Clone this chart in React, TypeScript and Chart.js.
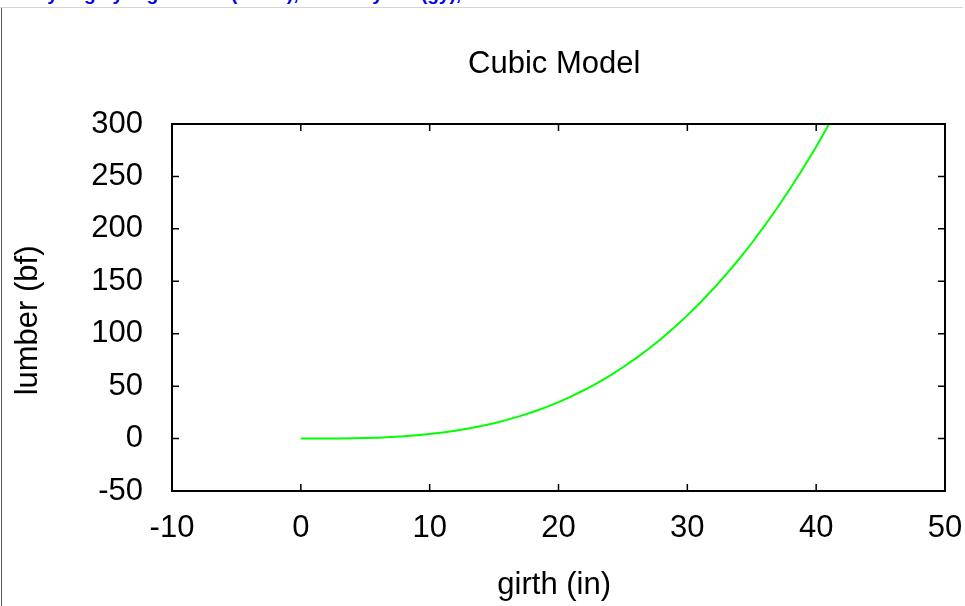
import React, { useEffect, useRef } from "react";
import { Chart, registerables } from "chart.js";

Chart.register(...registerables);

const chartTitle = "Cubic Model ";
const xAxisLabel = "girth (in) ";
const yAxisLabel = "lumber (bf)   ";

const girth = [
  0, 1, 2, 3, 4, 5, 6, 7, 8, 9, 10, 11, 12, 13, 14, 15, 16, 17, 18, 19, 20,
  21, 22, 23, 24, 25, 26, 27, 28, 29, 30, 31, 32, 33, 34, 35, 36, 37, 38, 39,
  40, 41,
];
const lumber = [
  0, 0, 0, 0.1, 0.3, 0.5, 0.9, 1.5, 2.2, 3.2, 4.4, 5.8, 7.5, 9.6, 11.9, 14.7,
  17.8, 21.4, 25.4, 29.8, 34.8, 40.3, 46.3, 52.9, 60.1, 68, 76.5, 85.6, 95.5,
  106.1, 117.5, 129.6, 142.6, 156.3, 171, 186.5, 203, 220.4, 238.7, 258,
  278.4, 300,
];

const xTickValues = [-10, 0, 10, 20, 30, 40, 50];
const yTickValues = [-50, 0, 50, 100, 150, 200, 250, 300];

const FONT = "'Liberation Sans', Arial, Helvetica, sans-serif";

const framePlugin = {
  id: "gnuFrame",
  afterDraw(chart: any) {
    const { ctx, chartArea } = chart;
    const { left, right, top, bottom } = chartArea;
    const xs = chart.scales.x;
    const ys = chart.scales.y;
    const tl = 7;
    ctx.save();
    ctx.strokeStyle = "#000";
    ctx.lineWidth = 1.5;
    xs.ticks.forEach((t: any) => {
      const px = xs.getPixelForValue(t.value);
      ctx.beginPath();
      ctx.moveTo(px, bottom);
      ctx.lineTo(px, bottom - tl);
      ctx.moveTo(px, top);
      ctx.lineTo(px, top + tl);
      ctx.stroke();
    });
    ys.ticks.forEach((t: any) => {
      const py = ys.getPixelForValue(t.value);
      ctx.beginPath();
      ctx.moveTo(left, py);
      ctx.lineTo(left + tl, py);
      ctx.moveTo(right, py);
      ctx.lineTo(right - tl, py);
      ctx.stroke();
    });
    ctx.lineWidth = 2;
    ctx.strokeRect(left, top, right - left, bottom - top);
    ctx.restore();
  },
};

export default function App() {
  const canvasRef = useRef<HTMLCanvasElement | null>(null);

  useEffect(() => {
    const canvas = canvasRef.current;
    if (!canvas) return;
    const points = girth.map((g, i) => ({ x: g, y: lumber[i] }));
    const chart = new Chart(canvas, {
      type: "scatter",
      data: {
        datasets: [
          {
            label: "cubic",
            data: points,
            showLine: true,
            borderColor: "#00ff00",
            backgroundColor: "#00ff00",
            borderWidth: 2,
            pointRadius: 0,
            tension: 0,
          },
        ],
      },
      options: {
        responsive: false,
        animation: false,
        events: [],
        layout: { padding: { left: 0, right: 20, top: 0, bottom: 0 } },
        plugins: {
          legend: { display: false },
          tooltip: { enabled: false },
          title: {
            display: true,
            text: chartTitle,
            fullSize: false,
            color: "#000",
            font: { family: FONT, size: 31, weight: "normal", lineHeight: 1.2 },
            padding: { top: 46, bottom: 40.8 },
          },
        },
        scales: {
          x: {
            type: "linear",
            position: "bottom",
            min: -10,
            max: 50,
            afterBuildTicks: (s: any) => {
              s.ticks = xTickValues.map((v) => ({ value: v }));
            },
            afterFit: (s: any) => {
              s.height = 115;
              s.paddingLeft = 0;
              s.paddingRight = 0;
            },
            ticks: {
              color: "#000",
              font: { family: FONT, size: 31 },
              padding: 19,
              maxRotation: 0,
              autoSkip: false,
            },
            grid: { display: false, drawTicks: false },
            border: { display: false },
            title: {
              display: true,
              text: xAxisLabel,
              color: "#000",
              font: { family: FONT, size: 31, lineHeight: 1.2 },
              padding: { top: 20, bottom: 2 },
            },
          },
          y: {
            type: "linear",
            position: "left",
            min: -50,
            max: 300,
            afterBuildTicks: (s: any) => {
              s.ticks = yTickValues.map((v) => ({ value: v }));
            },
            afterFit: (s: any) => {
              s.width = 172;
              s.paddingTop = 0;
              s.paddingBottom = 0;
            },
            ticks: {
              color: "#000",
              font: { family: FONT, size: 31 },
              padding: 29,
              autoSkip: false,
            },
            grid: { display: false, drawTicks: false },
            border: { display: false },
            title: {
              display: true,
              text: yAxisLabel,
              color: "#000",
              font: { family: FONT, size: 31, lineHeight: 1.2 },
              padding: { top: 10, bottom: 10 },
            },
          },
        },
      },
      plugins: [framePlugin],
    });
    return () => chart.destroy();
  }, []);

  return (
    <div
      style={{
        position: "fixed",
        left: 0,
        top: 0,
        width: 965,
        height: 606,
        overflow: "hidden",
        background: "#fff",
      }}
    >
      <div
        style={{
          position: "absolute",
          left: 0,
          top: 0,
          width: 965,
          height: 6,
          overflow: "hidden",
        }}
      >
        <div
          style={{
            position: "absolute",
            left: 6,
            top: -16,
            whiteSpace: "nowrap",
            fontFamily: FONT,
            fontSize: 19,
            lineHeight: "20px",
            fontWeight: "bold",
            color: "#0000ee",
          }}
        >
          Analyzing by regression (cubic), lumber yield (gy),
        </div>
      </div>
      <div
        style={{
          position: "absolute",
          left: 0,
          top: 7,
          width: 963,
          height: 1,
          background: "#d4d4d4",
        }}
      />
      <div
        style={{
          position: "absolute",
          left: 1,
          top: 8,
          width: 1,
          height: 598,
          background: "#5a5a5a",
        }}
      />
      <canvas
        ref={canvasRef}
        width={965}
        height={606}
        style={{ position: "absolute", left: 0, top: 0, width: 965, height: 606 }}
      />
    </div>
  );
}
